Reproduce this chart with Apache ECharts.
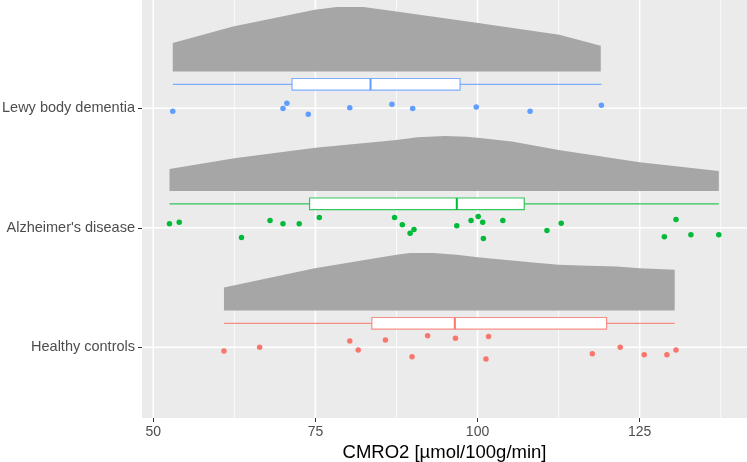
<!DOCTYPE html>
<html>
<head>
<meta charset="utf-8">
<script src="https://cdn.jsdelivr.net/npm/echarts@6/dist/echarts.min.js"></script>
<style>
html, body { margin: 0; padding: 0; background: #fff; }
#chart { width: 747px; height: 462px; }
</style>
</head>
<body>
<div id="chart"></div>
<script>
// groups, bottom to top
const groups = ['Healthy controls', "Alzheimer's disease", 'Lewy body dementia'];
const groupColors = ['#F8766D', '#00BA38', '#619CFF'];

const xMajorTicks = [50, 75, 100, 125];
const xMinorTicks = [62.5, 87.5, 112.5, 137.5];

// single subjects (CMRO2) + vertical jitter in category units
const hcValues = [60.9, 66.4, 80.3, 81.6, 85.8, 89.9, 92.3, 96.6, 101.3, 101.7, 117.7, 122.0, 125.7, 129.2, 130.6];
const hcJitter = [-0.031, 0, 0.053, -0.023, 0.061, -0.079, 0.097, 0.075, -0.098, 0.089, -0.054, 0, -0.062, -0.062, -0.023];

const adValues = [52.5, 54.0, 63.6, 68.0, 70.0, 72.5, 75.6, 87.2, 88.4, 89.6, 90.2, 96.8, 99.0, 100.1, 100.8, 100.9, 103.9, 110.7, 112.9, 128.8, 130.6, 132.9, 137.2];
const adJitter = [0.033, 0.047, -0.081, 0.061, 0.033, 0.033, 0.086, 0.086, 0.025, -0.045, -0.014, 0.017, 0.061, 0.095, 0.047, -0.09, 0.061, -0.023, 0.038, -0.075, 0.069, -0.059, -0.059];

const lbdValues = [53.0, 70.0, 70.6, 73.9, 80.3, 86.8, 90.0, 99.8, 108.1, 119.1];
const lbdJitter = [-0.025, -0.003, 0.042, -0.05, 0.005, 0.033, -0.003, 0.011, -0.025, 0.025];

// boxplot stats: min, q1, median, q3, max
const hcBox = [60.9, 83.7, 96.5, 119.9, 130.4];
const adBox = [52.5, 74.1, 96.8, 107.2, 137.2];
const lbdBox = [53.0, 71.4, 83.5, 97.3, 119.1];

// density outline: x positions and heights (category units)
const hcDensX = [60.9, 74.9, 87.5, 89.6, 93.2, 96.8, 100, 108.6, 112.5, 115.8, 121.5, 125, 130.4];
const hcDensH = [0.192, 0.354, 0.466, 0.48, 0.48, 0.466, 0.446, 0.402, 0.382, 0.377, 0.368, 0.354, 0.341];

const adDensX = [52.5, 62.5, 75, 87.5, 90.7, 95, 98.3, 100, 105.3, 112.5, 125, 137.2];
const adDensH = [0.184, 0.274, 0.362, 0.427, 0.449, 0.46, 0.454, 0.446, 0.413, 0.343, 0.24, 0.167];

const lbdDensX = [53.0, 62.3, 74.9, 78.3, 82.4, 87.5, 100.1, 112.6, 119.0];
const lbdDensH = [0.238, 0.377, 0.516, 0.539, 0.539, 0.502, 0.405, 0.307, 0.215];

const allValues = [hcValues, adValues, lbdValues];
const allJitter = [hcJitter, adJitter, lbdJitter];
const allBox = [hcBox, adBox, lbdBox];
const allDensX = [hcDensX, adDensX, lbdDensX];
const allDensH = [hcDensH, adDensH, lbdDensH];

// layout offsets (category units)
const DENS_OFFSET = 0.308;
const BOX_OFFSET = 0.2;
const BOX_HALF = 0.049;

const FONT = "'Liberation Sans', Arial, sans-serif";

var chart = echarts.init(document.getElementById('chart'));

// panel grid lines
function renderGrid(params, api) {
	const cs = params.coordSys;
	const v = api.value(0);
	const kind = api.value(1); // 0 minor x, 1 major x, 2 major y
	if (kind === 2) {
		const y = api.coord([60, v])[1];
		return {
			type: 'line',
			shape: { x1: cs.x, y1: y, x2: cs.x + cs.width, y2: y },
			style: { stroke: '#fff', lineWidth: 1.5 }
		};
	}
	const x = api.coord([v, 1])[0];
	return {
		type: 'line',
		shape: { x1: x, y1: cs.y, x2: x, y2: cs.y + cs.height },
		style: { stroke: '#fff', lineWidth: kind === 1 ? 1.5 : 0.8 }
	};
}

function renderDensity(params, api) {
	const g = params.dataIndex;
	const base = g + 1 + DENS_OFFSET;
	const xs = allDensX[g], hs = allDensH[g];
	const pts = [api.coord([xs[0], base])];
	xs.forEach((x, i) => pts.push(api.coord([x, base + hs[i]])));
	pts.push(api.coord([xs[xs.length - 1], base]));
	return {
		type: 'polygon',
		shape: { points: pts },
		style: { fill: '#a6a6a6' }
	};
}

function renderBox(params, api) {
	const g = params.dataIndex;
	const [mn, q1, md, q3, mx] = allBox[g];
	const yc = g + 1 + BOX_OFFSET;
	const c = groupColors[g];
	const pMin = api.coord([mn, yc]);
	const pQ1 = api.coord([q1, yc]);
	const pMd = api.coord([md, yc]);
	const pQ3 = api.coord([q3, yc]);
	const pMax = api.coord([mx, yc]);
	const top = api.coord([q1, yc + BOX_HALF])[1];
	const bot = api.coord([q1, yc - BOX_HALF])[1];
	const lineStyle = { stroke: c, lineWidth: 1.2, opacity: 0.8 };
	return {
		type: 'group',
		children: [
			{ type: 'line', shape: { x1: pMin[0], y1: pMin[1], x2: pQ1[0], y2: pQ1[1] }, style: lineStyle },
			{ type: 'line', shape: { x1: pQ3[0], y1: pQ3[1], x2: pMax[0], y2: pMax[1] }, style: lineStyle },
			{ type: 'rect', shape: { x: pQ1[0], y: top, width: pQ3[0] - pQ1[0], height: bot - top }, style: { fill: '#fff', stroke: c, lineWidth: 1.2, strokeOpacity: 0.8 } },
			{ type: 'line', shape: { x1: pMd[0], y1: top, x2: pMd[0], y2: bot }, style: { stroke: c, lineWidth: 2 } }
		]
	};
}

const gridData = []
	.concat(xMinorTicks.map(v => [v, 0]))
	.concat(xMajorTicks.map(v => [v, 1]))
	.concat(groups.map((_, i) => [i + 1, 2]));

const series = [
	{
		type: 'custom',
		name: 'grid',
		renderItem: renderGrid,
		data: gridData,
		encode: { x: 0 },
		silent: true,
		z: 0
	},
	{
		type: 'custom',
		name: 'density',
		renderItem: renderDensity,
		data: groups.map((_, i) => [allDensX[i][0], i + 1]),
		encode: { x: 0, y: 1 },
		silent: true,
		z: 2
	},
	{
		type: 'custom',
		name: 'box',
		renderItem: renderBox,
		data: groups.map((_, i) => [allBox[i][2], i + 1]),
		encode: { x: 0, y: 1 },
		silent: true,
		z: 3
	}
];

groups.forEach((name, g) => {
	series.push({
		type: 'scatter',
		name: name,
		data: allValues[g].map((v, i) => [v, g + 1 + allJitter[g][i]]),
		symbolSize: 5.5,
		itemStyle: { color: groupColors[g], opacity: 1 },
		z: 4
	});
});

let option = {
	animation: false,
	grid: {
		left: 142,
		right: 0,
		top: 0,
		bottom: 44,
		outerBoundsMode: 'none',
		containLabel: false,
		show: true,
		backgroundColor: '#ebebeb',
		borderWidth: 0
	},
	xAxis: {
		type: 'value',
		min: 48.26,
		max: 141.55,
		axisLine: { show: false },
		splitLine: { show: false },
		axisTick: {
			show: true,
			length: 4,
			customValues: xMajorTicks,
			lineStyle: { color: '#333' }
		},
		axisLabel: {
			customValues: xMajorTicks,
			margin: 7,
			color: '#4d4d4d',
			fontSize: 14,
			fontFamily: FONT
		},
		name: 'CMRO2 [µmol/100g/min]',
		nameLocation: 'middle',
		nameGap: 22,
		nameTextStyle: { color: '#000', fontSize: 18.5, fontFamily: FONT }
	},
	yAxis: {
		type: 'value',
		min: 0.408,
		max: 3.906,
		axisLine: { show: false },
		splitLine: { show: false },
		axisTick: {
			show: true,
			length: 4,
			customValues: [1, 2, 3],
			lineStyle: { color: '#333' }
		},
		axisLabel: {
			customValues: [1, 2, 3],
			formatter: v => groups[Math.round(v) - 1],
			margin: 7,
			color: '#4d4d4d',
			fontSize: 14.5,
			fontFamily: FONT
		}
	},
	series: series
};

chart.setOption(option);
</script>
</body>
</html>
